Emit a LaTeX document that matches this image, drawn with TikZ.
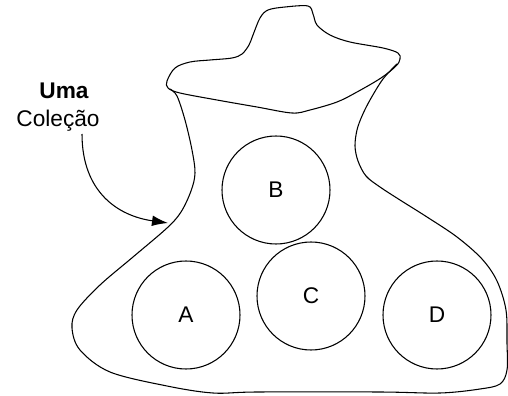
\documentclass[tikz,border=0pt]{standalone}
\usepackage{fontspec}
\setmainfont{Liberation Sans}
\usetikzlibrary{arrows.meta}
\begin{document}
\begin{tikzpicture}[x=0.75pt,y=-0.75pt,
  outline/.style={line width=0.8pt,line join=round},
  member/.style={circle,draw,line width=0.8pt,minimum size=81pt,inner sep=0pt,font=\fontsize{17}{20}\selectfont},
  caption/.style={inner sep=0pt,font=\fontsize{17}{20}\selectfont}]
\useasboundingbox (0,0) rectangle (508,396);

% rim of the vessel
\draw[outline] plot[smooth cycle,tension=0.55] coordinates {
  (167,81) (175,68) (190,62) (210,60) (232,58) (242,54) (249,45) (253,35)
  (260,18) (268,10) (285,7) (308,6) (313,14) (317,25) (330,35) (350,42)
  (383,48) (398,53) (400,59) (396,66) (381,78) (357,92) (337,102) (310,110)
  (292,113) (257,107) (217,100) (180,93) (168,88)};

% body of the vessel
\draw[outline] plot[smooth,tension=0.55] coordinates {
  (170,89) (177,96) (185,120) (192,150) (195,173) (191,191) (181,212)
  (167,228) (133,257) (100,285) (77,310) (72,328) (80,350) (110,372)
  (167,386) (213,393) (257,392) (380,392) (440,393) (480,389) (500,384)
  (507,370) (507,343) (506,310) (497,281) (482,259) (457,237) (427,217)
  (400,200) (380,187) (366,176) (358,161) (355,146) (357,130) (362,116)
  (370,100) (383,79) (397,64)};

% elements of the collection
\node[member] (b) at (276,190) {B};
\node[member] (a) at (186,315) {A};
\node[member] (c) at (311,296) {C};
\node[member] (d) at (437,315) {D};

% label with its pointer
\node[caption,font=\fontsize{17}{20}\selectfont\bfseries] (uma) at (64,91) {Uma};
\node[caption] (colecao) at (58,121) {Coleção};
\coordinate (arrowstart) at (82,134);
\coordinate (arrowtip) at (168,223);
\draw[line width=0.8pt,-{Latex[length=12pt,width=8pt]}]
  (arrowstart) .. controls (82,192) and (118,216) .. (arrowtip);
\end{tikzpicture}
\end{document}
